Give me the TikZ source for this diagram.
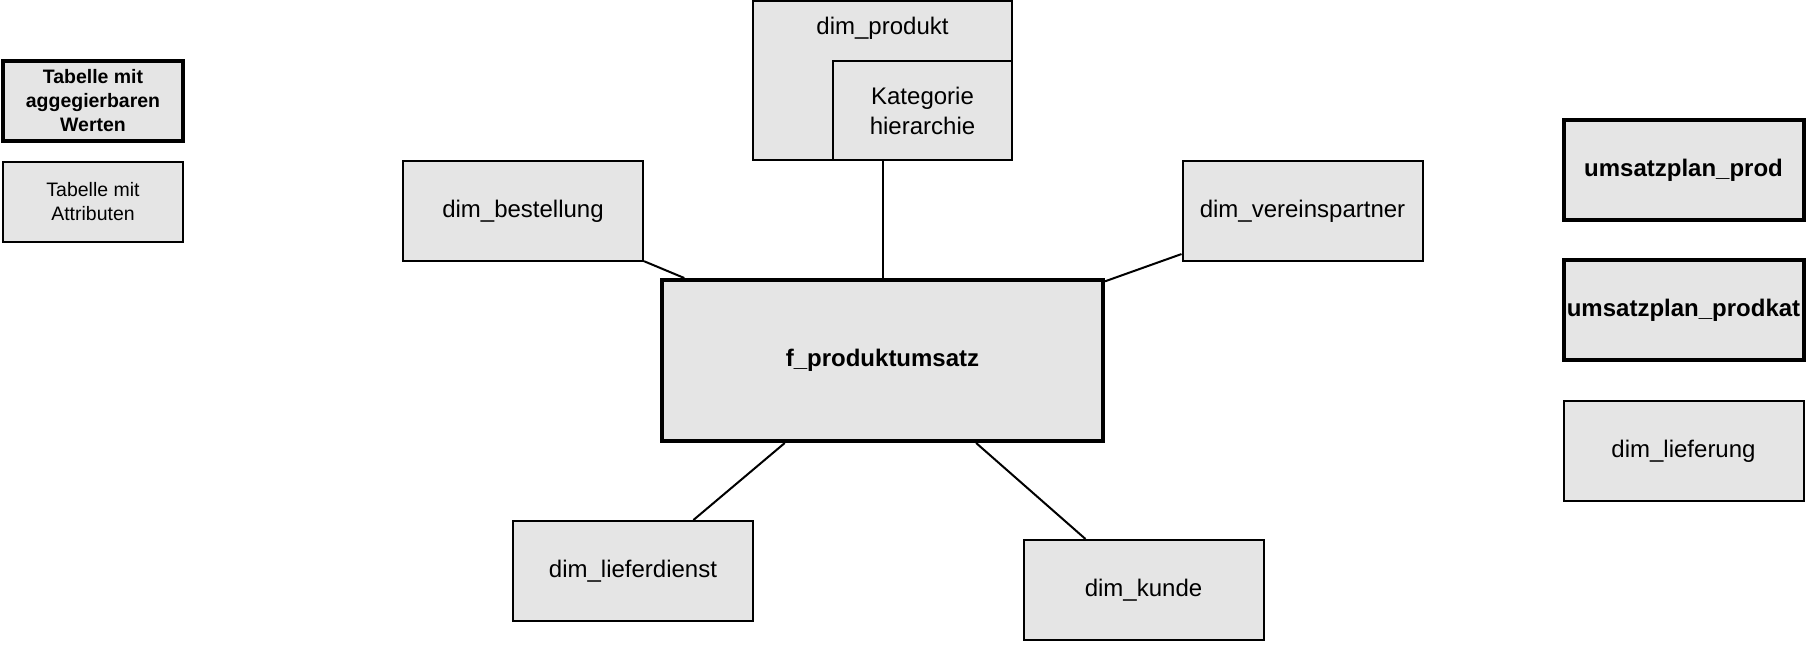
\documentclass[tikz,border=0pt]{standalone}
\usepackage{fontspec}
\setmainfont{Liberation Sans}

\begin{document}
\begin{tikzpicture}[x=0.75pt, y=-0.75pt,
    tabelle/.style={draw, line width=1.5pt, fill=gray!20, inner sep=0pt,
        minimum width=180pt, minimum height=75pt, align=center,
        font=\fontsize{18}{22.5}\selectfont},
    wertetabelle/.style={tabelle, line width=3pt, font=\fontsize{18}{22.5}\selectfont\bfseries},
    legende/.style={font=\fontsize{14.6}{18}\selectfont, minimum width=135pt, minimum height=60pt}]
    \useasboundingbox (0,0) rectangle (1806,644);

    % legend
    \node[wertetabelle, legende, font=\fontsize{14.6}{18}\selectfont\bfseries] (legendewerte) at (93,101) {Tabelle mit\\aggegierbaren\\Werten};
    \node[tabelle, legende] (legendeattribute) at (93,201.5) {Tabelle mit\\Attributen};

    % star schema
    \node[wertetabelle, minimum width=330.75pt, minimum height=120.75pt] (fakt) at (882.5,360.5) {f\_produktumsatz};
    \node[tabelle, minimum width=194.25pt, minimum height=119.25pt,
        label={[anchor=center, yshift=-21pt, font=\fontsize{18}{22.5}\selectfont]north:dim\_produkt}] (produkt) at (882.5,80.5) {};
    \node[tabelle, minimum width=134.25pt, minimum height=74.25pt] (kategorie) at (922.5,110.5) {Kategorie\\hierarchie};
    \node[tabelle] (bestellung) at (523,211) {dim\_bestellung};
    \node[tabelle] (vereinspartner) at (1302.5,211) {dim\_vereinspartner};
    \node[tabelle] (lieferdienst) at (633,571) {dim\_lieferdienst};
    \node[tabelle] (kunde) at (1143.5,590) {dim\_kunde};

    \draw[line width=1.5pt] (bestellung) -- (fakt);
    \draw[line width=1.5pt] (produkt) -- (fakt);
    \draw[line width=1.5pt] (vereinspartner) -- (fakt);
    \draw[line width=1.5pt] (lieferdienst) -- (fakt);
    \draw[line width=1.5pt] (kunde) -- (fakt);

    % separate tables
    \node[wertetabelle] (planprod) at (1683.5,170) {umsatzplan\_prod};
    \node[wertetabelle] (planprodkat) at (1683.5,310) {umsatzplan\_prodkat};
    \node[tabelle] (lieferung) at (1683.5,451) {dim\_lieferung};
\end{tikzpicture}
\end{document}
